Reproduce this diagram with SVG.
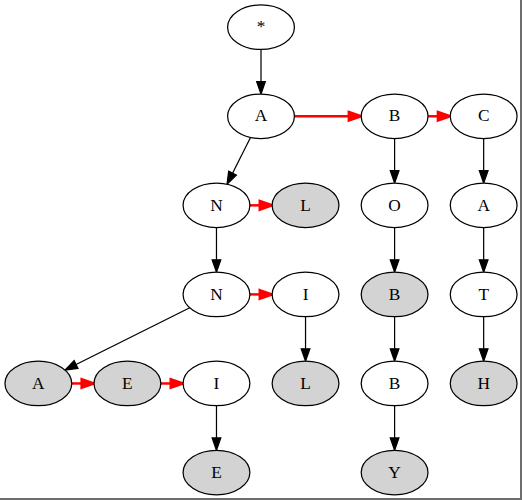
<svg xmlns="http://www.w3.org/2000/svg" width="522" height="500" viewBox="0 0 522 500">
<style>
  .n ellipse { fill: #ffffff; stroke: #000000; stroke-width: 1; }
  .n.g ellipse { fill: #d3d3d3; }
  .n text { font-family: "Liberation Serif", "Times New Roman", serif; font-size: 14px; text-anchor: middle; fill: #000000; }
  .e { fill: none; stroke: #000000; stroke-width: 1; marker-end: url(#ab); }
  .r { fill: none; stroke: #ff0000; stroke-width: 2; marker-end: url(#ar); }
</style>
<defs>
  <marker id="ab" markerUnits="userSpaceOnUse" viewBox="0 0 10 7" refX="0" refY="3.5" markerWidth="10" markerHeight="7" orient="auto" overflow="visible">
    <polygon points="0,0 10,3.5 0,7" fill="#000000" stroke="#000000" stroke-width="1"/>
  </marker>
  <marker id="ar" markerUnits="userSpaceOnUse" viewBox="0 0 10 7" refX="0" refY="3.5" markerWidth="10" markerHeight="7" orient="auto" overflow="visible">
    <polygon points="0,0 10,3.5 0,7" fill="#ff0000" stroke="#ff0000" stroke-width="2"/>
  </marker>
</defs>
<rect x="0" y="0" width="522" height="500" fill="#ffffff"/>
<g transform="scale(1.237)">
  <g id="connectors">
    <line class="e" x1="211" y1="40" x2="211" y2="66"/>
    <line class="e" x1="202.5" y1="111.1" x2="188" y2="140"/>
    <line class="e" x1="175" y1="184" x2="175" y2="210"/>
    <line class="e" x1="153.4" y1="248.8" x2="61.5" y2="294.7"/>
    <line class="e" x1="247" y1="256" x2="247" y2="282"/>
    <line class="e" x1="175" y1="328" x2="175" y2="354"/>
    <line class="e" x1="319" y1="112" x2="319" y2="138"/>
    <line class="e" x1="319" y1="184" x2="319" y2="210"/>
    <line class="e" x1="319" y1="256" x2="319" y2="282"/>
    <line class="e" x1="319" y1="328" x2="319" y2="354"/>
    <line class="e" x1="391" y1="112" x2="391" y2="138"/>
    <line class="e" x1="391" y1="184" x2="391" y2="210"/>
    <line class="e" x1="391" y1="256" x2="391" y2="282"/>
    <line class="r" x1="238" y1="94" x2="282" y2="94"/>
    <line class="r" x1="346" y1="94" x2="354" y2="94"/>
    <line class="r" x1="202" y1="166" x2="210" y2="166"/>
    <line class="r" x1="202" y1="238" x2="210" y2="238"/>
    <line class="r" x1="58" y1="310" x2="66" y2="310"/>
    <line class="r" x1="130" y1="310" x2="138" y2="310"/>
  </g>
  <g id="root" class="n"><ellipse cx="211" cy="22" rx="27" ry="18"/><text x="211" y="26.2">*</text></g>
  <g id="A" class="n"><ellipse cx="211" cy="94" rx="27" ry="18"/><text x="211" y="98.2">A</text></g>
  <g id="B" class="n"><ellipse cx="319" cy="94" rx="27" ry="18"/><text x="319" y="98.2">B</text></g>
  <g id="C" class="n"><ellipse cx="391" cy="94" rx="27" ry="18"/><text x="391" y="98.2">C</text></g>
  <g id="AN" class="n"><ellipse cx="175" cy="166" rx="27" ry="18"/><text x="175" y="170.2">N</text></g>
  <g id="AL" class="n g"><ellipse cx="247" cy="166" rx="27" ry="18"/><text x="247" y="170.2">L</text></g>
  <g id="BO" class="n"><ellipse cx="319" cy="166" rx="27" ry="18"/><text x="319" y="170.2">O</text></g>
  <g id="CA" class="n"><ellipse cx="391" cy="166" rx="27" ry="18"/><text x="391" y="170.2">A</text></g>
  <g id="ANN" class="n"><ellipse cx="175" cy="238" rx="27" ry="18"/><text x="175" y="242.2">N</text></g>
  <g id="ANI" class="n"><ellipse cx="247" cy="238" rx="27" ry="18"/><text x="247" y="242.2">I</text></g>
  <g id="BOB" class="n g"><ellipse cx="319" cy="238" rx="27" ry="18"/><text x="319" y="242.2">B</text></g>
  <g id="CAT" class="n"><ellipse cx="391" cy="238" rx="27" ry="18"/><text x="391" y="242.2">T</text></g>
  <g id="ANNA" class="n g"><ellipse cx="31" cy="310" rx="27" ry="18"/><text x="31" y="314.2">A</text></g>
  <g id="ANNE" class="n g"><ellipse cx="103" cy="310" rx="27" ry="18"/><text x="103" y="314.2">E</text></g>
  <g id="ANNI" class="n"><ellipse cx="175" cy="310" rx="27" ry="18"/><text x="175" y="314.2">I</text></g>
  <g id="ANIL" class="n g"><ellipse cx="247" cy="310" rx="27" ry="18"/><text x="247" y="314.2">L</text></g>
  <g id="BOBB" class="n"><ellipse cx="319" cy="310" rx="27" ry="18"/><text x="319" y="314.2">B</text></g>
  <g id="CATH" class="n g"><ellipse cx="391" cy="310" rx="27" ry="18"/><text x="391" y="314.2">H</text></g>
  <g id="ANNIE" class="n g"><ellipse cx="175" cy="382" rx="27" ry="18"/><text x="175" y="386.2">E</text></g>
  <g id="BOBBY" class="n g"><ellipse cx="319" cy="382" rx="27" ry="18"/><text x="319" y="386.2">Y</text></g>
</g>
<polyline points="521,0 521,499 0,499" fill="none" stroke="#6e6e6e" stroke-width="2"/>
</svg>
